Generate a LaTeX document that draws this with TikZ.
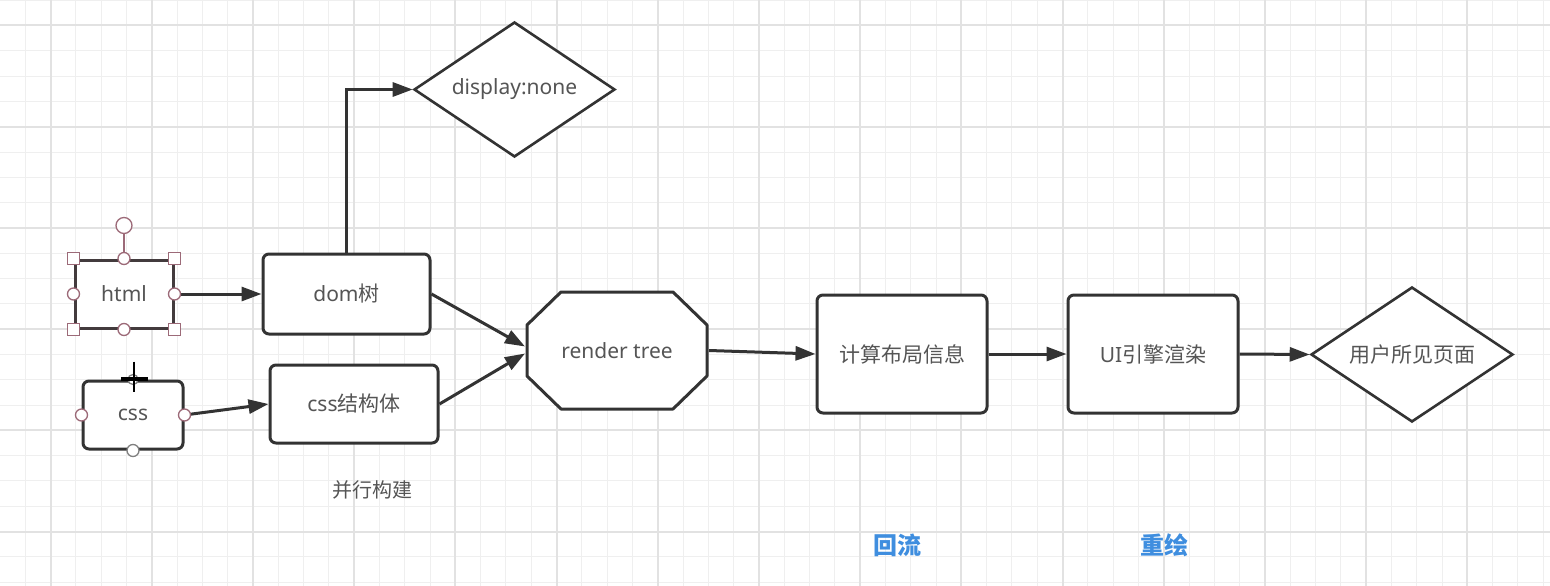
\documentclass[tikz,border=0pt]{standalone}
\usepackage{fontspec}
\setmainfont{Noto Sans}
\newfontfamily\cjk{Noto Sans CJK SC}
\usetikzlibrary{arrows.meta,shapes.geometric,calc}
\definecolor{ink}{HTML}{333333}
\definecolor{txt}{HTML}{555555}
\definecolor{gridminor}{HTML}{EFEFEF}
\definecolor{gridmajor}{HTML}{E2E2E2}
\definecolor{sel}{HTML}{9C6A78}
\definecolor{blu}{HTML}{3F8EDF}
\begin{document}
\begin{tikzpicture}[x=1pt,y=-1pt,
  base/.style={draw=ink, line width=3pt, fill=white, inner sep=0pt, text=txt, font=\fontsize{21}{25}\selectfont},
  box/.style={base, rounded corners=6pt},
  dia/.style={base, diamond, aspect=1.49, line width=2.6pt},
  arrow/.style={draw=ink, line width=3pt, -{Triangle[length=20pt,width=14pt]}},
  handle/.style={draw=sel, fill=white, line width=1.3pt},
  lbl/.style={text=txt, font=\fontsize{20}{24}\selectfont\cjk, inner sep=0pt},
  blbl/.style={text=blu, font=\fontsize{24}{28}\selectfont\cjk\bfseries, inner sep=0pt}
]
\useasboundingbox (0,0) rectangle (1550,586);
\fill[white] (0,0) rectangle (1550,586);
% grid
\foreach \i in {0,...,63} \draw[gridminor, line width=1pt] ({50.5+25.3*(\i-2)},0) -- ({50.5+25.3*(\i-2)},586);
\foreach \i in {0,...,24} \draw[gridminor, line width=1pt] (0,{25.5+25.3*(\i-1)}) -- (1550,{25.5+25.3*(\i-1)});
\foreach \i in {0,...,14} \draw[gridmajor, line width=2pt] ({50.5+101.2*\i},0) -- ({50.5+101.2*\i},586);
\foreach \i in {0,...,5} \draw[gridmajor, line width=2pt] (0,{25.5+101.2*\i}) -- (1550,{25.5+101.2*\i});

% render tree octagon
\draw[draw=ink, line width=3pt, fill=white, line join=round]
  (561,292) -- (673,292) -- (707,325) -- (707,376) -- (673,409) -- (561,409) -- (527,376) -- (527,325) -- cycle;

% nodes
\node[base, draw=ink!85!sel, minimum width=98pt, minimum height=68pt] (html) at (124,294) {html};
\node[box, minimum width=100pt, minimum height=68pt] (css) at (133,415) {css};
\node[box, minimum width=167pt, minimum height=80pt] (dom) at (346.5,294) {dom{\cjk 树}};
\node[box, minimum width=168pt, minimum height=78pt] (cssb) at (354,404) {css{\cjk 结构体}};
\node[dia, minimum width=201pt, minimum height=135pt] (disp) at (514.5,89.5) {display:none};
\node[base, draw=none, fill=none, minimum width=181pt, minimum height=118pt] (render) at (617,350.5) {render tree};
\node[box, minimum width=170pt, minimum height=118pt] (calc) at (902,354) {\cjk 计算布局信息};
\node[box, minimum width=170pt, minimum height=118pt] (ui) at (1153,354) {UI{\cjk 引擎渲染}};
\node[dia, minimum width=202pt, minimum height=135pt] (user) at (1412,354.5) {\cjk 用户所见页面};

% labels
\node[lbl] (par) at (372,490) {并行构建};
\node[blbl] (reflow) at (897,545) {回流};
\node[blbl] (repaint) at (1164,545) {重绘};

% connectors
\draw[arrow] (html.east) -- (dom.west);
\draw[arrow] (css.east) -- (cssb.west);
\draw[arrow] (dom.north) |- (disp.west);
\draw[arrow] (dom.east) -- ($(render.west)+(0,-4)$);
\draw[arrow] (cssb.east) -- ($(render.west)+(0,3)$);
\draw[arrow] (render.east) -- (calc.west);
\draw[arrow] (calc.east) -- (ui.west);
\draw[arrow] (ui.east) -- (user.west);

% selection handles on html
\draw[sel, line width=1.5pt] (html.north) -- ++(0,-25);
\draw[handle] ($(html.north)+(0,-33)$) circle (8pt);
\foreach \a in {north west, north east, south west, south east}
  \draw[handle] ($(html.\a)+(-6,-6)$) rectangle ($(html.\a)+(6,6)$);
\foreach \a in {north, south, east, west}
  \draw[handle] (html.\a) circle (6pt);

% connection points on css
\draw[handle] (css.west) circle (6pt);
\draw[handle] (css.east) circle (6pt);
\draw[handle, draw=gray] (css.south) circle (6pt);
\draw[handle, draw=gray] (css.north) circle (5pt);

% cursor
\draw[black, line width=2pt] ($(css.north)+(1,-18)$) -- ($(css.north)+(1,12)$);
\draw[black, line width=4pt] ($(css.north)+(-12,-1)$) -- ($(css.north)+(15,-1)$);
\end{tikzpicture}
\end{document}
